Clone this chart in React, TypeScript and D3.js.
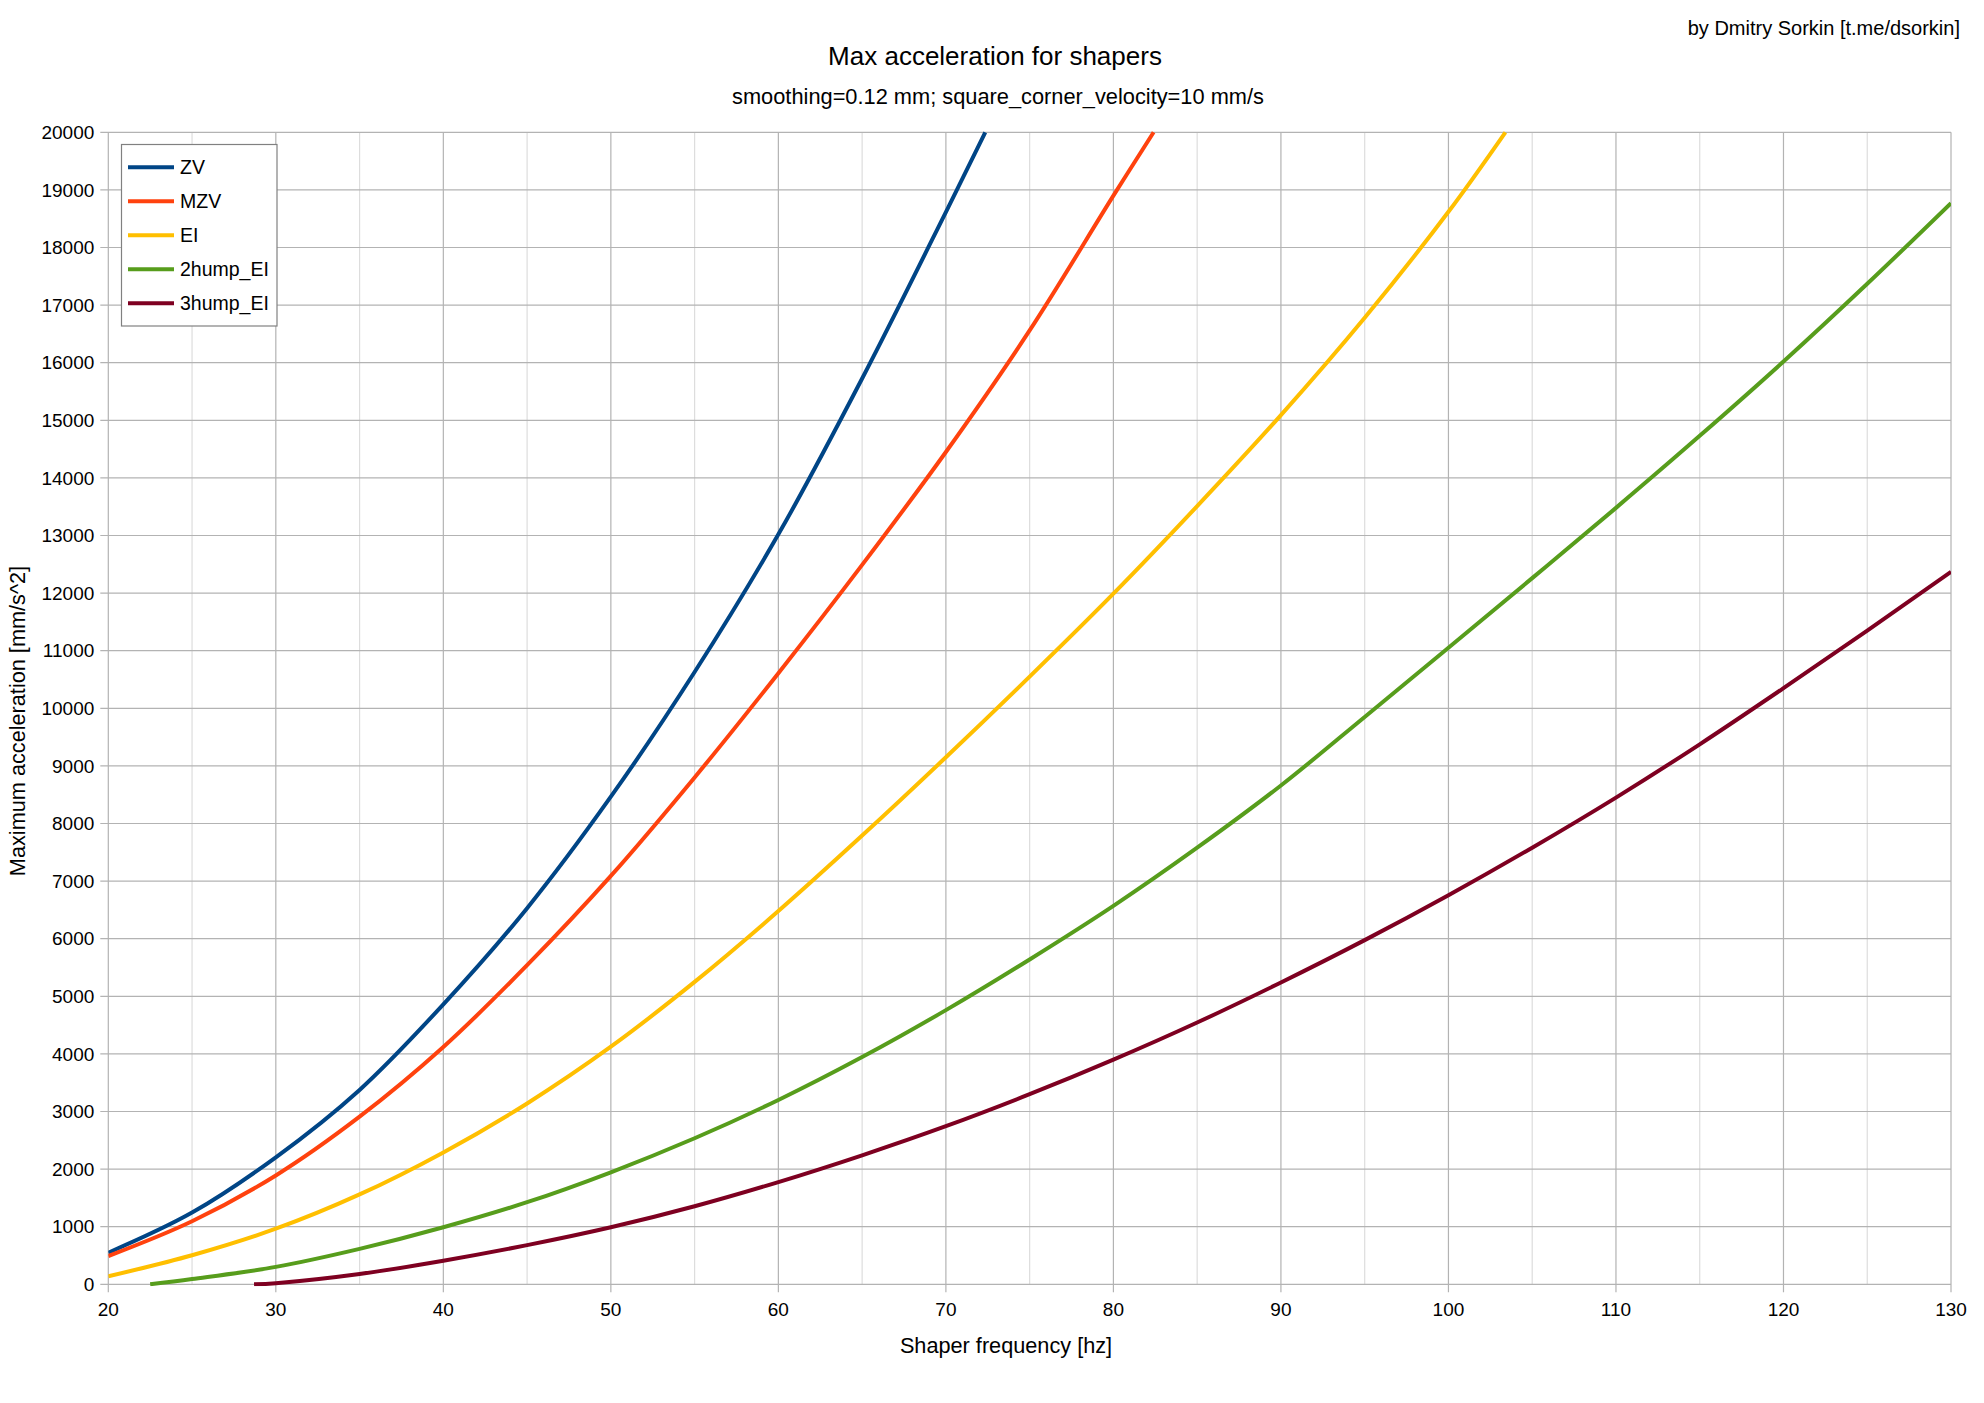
import * as d3 from "d3";

// frequency [hz] / max accel [mm/s^2], per shaper
const zvHz = [20, 25, 30, 35, 40, 45, 50, 55, 60, 65, 70, 72.35];
const zvAccel = [549, 1245, 2205, 3375, 4860, 6530, 8465, 10630, 13020, 15725, 18615, 20000];

const mzvHz = [20, 25, 30, 35, 40, 45, 50, 55, 60, 65, 70, 75, 80, 82.4];
const mzvAccel = [491, 1095, 1890, 2910, 4120, 5540, 7090, 8800, 10610, 12490, 14450, 16560, 18900, 20000];

const eiHz = [20, 25, 30, 35, 40, 45, 50, 55, 60, 65, 70, 75, 80, 85, 90, 95, 100, 103.4];
const eiAccel = [139, 505, 965, 1560, 2290, 3140, 4125, 5250, 6480, 7790, 9150, 10550, 11990, 13510, 15090, 16780, 18620, 20000];

const hump2Hz = [22.5, 25, 30, 35, 40, 45, 50, 55, 60, 65, 70, 75, 80, 85, 90, 95, 100, 105, 110, 115, 120, 125, 130];
const hump2Accel = [0, 92, 302, 615, 990, 1425, 1945, 2535, 3200, 3945, 4760, 5640, 6570, 7580, 8660, 9850, 11050, 12260, 13480, 14730, 16020, 17370, 18770];

const hump3Hz = [28.7, 30, 35, 40, 45, 50, 55, 60, 65, 70, 75, 80, 85, 90, 95, 100, 105, 110, 115, 120, 125, 130];
const hump3Accel = [0, 20, 180, 410, 680, 990, 1355, 1775, 2240, 2745, 3300, 3900, 4545, 5240, 5975, 6755, 7580, 8450, 9375, 10350, 11350, 12370];

const seriesNames = ["ZV", "MZV", "EI", "2hump_EI", "3hump_EI"];
const seriesColors = ["#004586", "#ff420e", "#ffbf00", "#579d1c", "#7e0021"];
const seriesHz = [zvHz, mzvHz, eiHz, hump2Hz, hump3Hz];
const seriesAccel = [zvAccel, mzvAccel, eiAccel, hump2Accel, hump3Accel];

const xTicks = d3.range(20, 131, 10);
const xMinor = d3.range(25, 130, 10);
const yTicks = d3.range(0, 20001, 1000);

const W = 1984;
const H = 1403;
const margin = { top: 132.3, right: 33, bottom: 118.7, left: 108.3 };
const font = "'Liberation Sans', Arial, sans-serif";

export default function App() {
    const x = d3.scaleLinear().domain([20, 130]).range([margin.left, W - margin.right]);
    const y = d3.scaleLinear().domain([0, 20000]).range([H - margin.bottom, margin.top]);
    const [x0, x1] = x.range();
    const [y0, y1] = y.range();

    const line = d3.line<[number, number]>()
        .x(d => x(d[0]))
        .y(d => y(d[1]))
        .curve(d3.curveCatmullRom.alpha(0.5));

    return (
        <svg width={W} height={H} style={{ position: "absolute", left: 0, top: 0, background: "#fff" }}
            fontFamily={font}>
            <defs>
                <clipPath id="plot">
                    <rect x={x0} y={y1 - 2} width={x1 - x0} height={y0 - y1 + 4} />
                </clipPath>
            </defs>

            <text x={1960} y={35} fontSize={20} textAnchor="end">by Dmitry Sorkin [t.me/dsorkin]</text>
            <text x={995} y={65} fontSize={26} textAnchor="middle">Max acceleration for shapers</text>
            <text x={998} y={104} fontSize={21.8} textAnchor="middle">smoothing=0.12 mm; square_corner_velocity=10 mm/s</text>

            {/* grid */}
            {xMinor.map(t => (
                <line key={"m" + t} x1={x(t)} x2={x(t)} y1={y1} y2={y0} stroke="#dddddd" strokeWidth={1.2} />
            ))}
            {yTicks.map(t => (
                <line key={"h" + t} x1={x0 - 8} x2={x1} y1={y(t)} y2={y(t)} stroke="#b3b3b3" strokeWidth={1.2} />
            ))}
            {xTicks.map(t => (
                <line key={"v" + t} x1={x(t)} x2={x(t)} y1={y1} y2={y0 + 8} stroke="#b3b3b3" strokeWidth={1.2} />
            ))}

            {/* tick labels */}
            {yTicks.map(t => (
                <text key={"yl" + t} x={x0 - 14} y={y(t)} dy="0.35em" fontSize={19} textAnchor="end">{t}</text>
            ))}
            {xTicks.map(t => (
                <text key={"xl" + t} x={x(t)} y={1316} fontSize={19} textAnchor="middle">{t}</text>
            ))}

            <text x={1006} y={1353} fontSize={21.7} textAnchor="middle">Shaper frequency [hz]</text>
            <text transform={`translate(25,${721}) rotate(-90)`} fontSize={21.7} textAnchor="middle">
                Maximum acceleration [mm/s^2]
            </text>

            {/* curves */}
            <g clipPath="url(#plot)">
                {seriesNames.map((name, i) => (
                    <path key={name}
                        d={line(seriesHz[i].map((h, j) => [h, seriesAccel[i][j]] as [number, number])) || ""}
                        fill="none" stroke={seriesColors[i]} strokeWidth={4} strokeLinejoin="round" />
                ))}
            </g>

            {/* legend */}
            <rect x={121.5} y={144.5} width={155.5} height={181.5} fill="#fff" stroke="#808080" strokeWidth={1.2} />
            {seriesNames.map((name, i) => (
                <g key={"lg" + name} transform={`translate(0,${167.3 + i * 34})`}>
                    <line x1={128} x2={174} y1={0} y2={0} stroke={seriesColors[i]} strokeWidth={4} />
                    <text x={180} y={0} dy="0.35em" fontSize={19.5}>{name}</text>
                </g>
            ))}
        </svg>
    );
}
